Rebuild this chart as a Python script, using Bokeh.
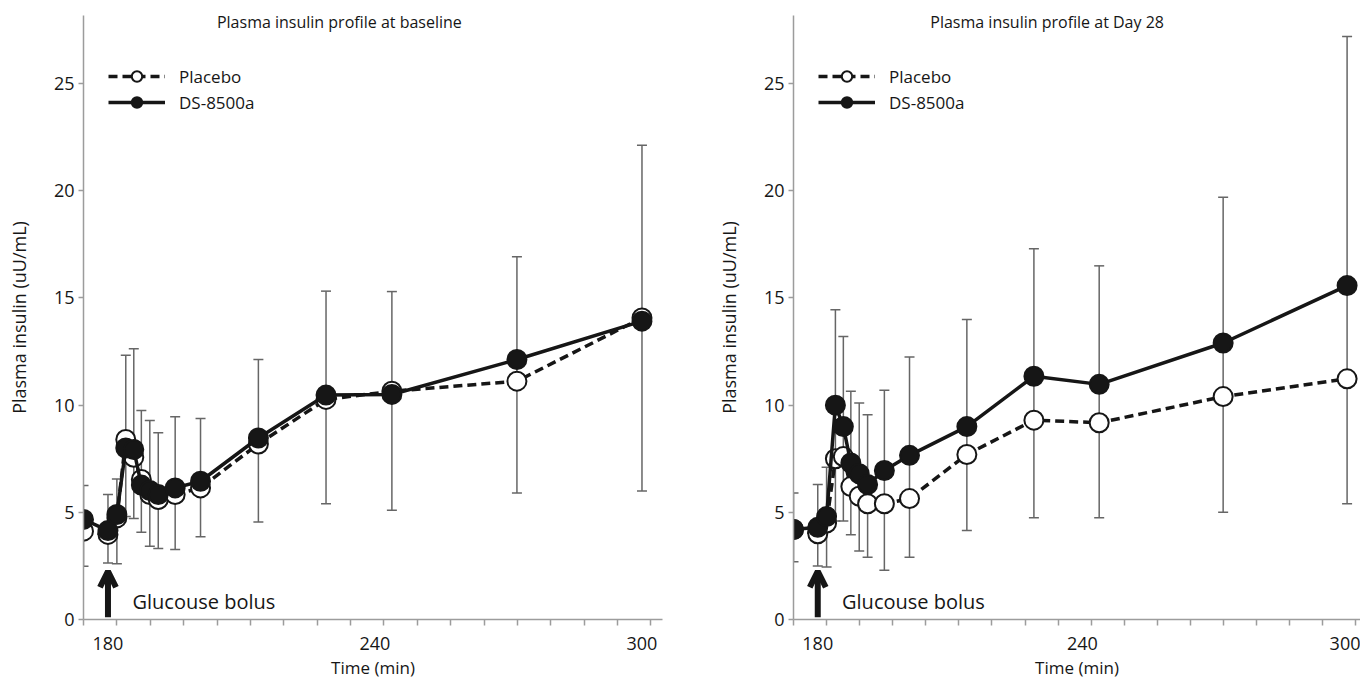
from bokeh.plotting import figure
from bokeh.models import (Range1d, FixedTicker, Whisker, TeeHead, ColumnDataSource,
                          Label, Arrow, OpenHead, Legend, LegendItem)
from bokeh.layouts import row
from bokeh.embed import file_html
from bokeh.resources import INLINE

# ---------------- data ----------------
times = [174.5, 180, 182, 184, 185.8, 187.5, 189.4, 191.3, 195.1, 200.8, 213.8, 229.0, 243.8, 271.9, 300]

placebo_base = [4.12, 3.97, 4.74, 8.4, 7.57, 6.53, 5.83, 5.6, 5.83, 6.14, 8.19, 10.27, 10.65, 11.12, 14.07]
ds_base = [4.67, 4.15, 4.9, 8.0, 7.93, 6.27, 6.02, 5.83, 6.14, 6.45, 8.47, 10.47, 10.5, 12.13, 13.92]
upper_base = [6.25, 5.83, 6.56, 12.33, 12.63, 9.75, 9.29, 8.71, 9.46, 9.38, 12.13, 15.32, 15.3, 16.92, 22.13]
lower_base = [2.49, 2.64, 2.6, 4.8, 4.71, 4.07, 3.42, 3.31, 3.27, 3.86, 4.55, 5.4, 5.1, 5.9, 6.0]

placebo_d28 = [4.2, 4.0, 4.5, 7.5, 7.6, 6.2, 5.75, 5.4, 5.4, 5.64, 7.7, 9.3, 9.18, 10.4, 11.23]
ds_d28 = [4.2, 4.3, 4.8, 10.0, 9.0, 7.3, 6.8, 6.3, 6.95, 7.66, 9.0, 11.35, 10.97, 12.9, 15.58]
upper_d28 = [5.9, 6.3, 7.1, 14.45, 13.2, 10.65, 10.1, 9.55, 10.7, 12.25, 14.0, 17.3, 16.5, 19.7, 27.2]
lower_d28 = [2.7, 2.5, 2.45, 4.6, 4.6, 3.95, 3.2, 2.9, 2.3, 2.9, 4.15, 4.75, 4.75, 5.0, 5.4]

x_tick_labels = [180, 240, 300]
y_ticks = [0, 5, 10, 15, 20, 25]
series_names = ["Placebo", "DS-8500a"]
titles = ["Plasma insulin profile at baseline", "Plasma insulin profile at Day 28"]
bolus_time = 180
bolus_text = "Glucouse bolus"

# ---------------- style ----------------
FONT = "Open Sans"
BLACK = "#161616"
AXIS_GRAY = "#9c9c9c"
ERR_GRAY = "#666666"
X_START = 174.5
PX_PER_MIN = 4.45
Y_MAX = 28.18
HEIGHT = 683


def make_panel(title, placebo, ds, upper, lower, width, border_left, border_right):
    frame_w = width - border_left - border_right
    p = figure(width=width, height=HEIGHT, output_backend="svg", toolbar_location=None,
               x_range=Range1d(X_START, X_START + frame_w / PX_PER_MIN),
               y_range=Range1d(0, Y_MAX),
               min_border_left=border_left, min_border_right=border_right,
               min_border_top=15, min_border_bottom=64)
    p.grid.visible = False
    p.outline_line_color = None
    p.background_fill_color = "white"
    p.border_fill_color = "white"

    # x axis
    xa = p.xaxis[0]
    xa.ticker = FixedTicker(ticks=x_tick_labels,
                            minor_ticks=[X_START + 7.5 * k for k in range(18)])
    xa.axis_line_color = AXIS_GRAY
    xa.axis_line_width = 1.5
    xa.major_tick_line_color = None
    xa.major_tick_out = 0
    xa.major_tick_in = 0
    xa.minor_tick_line_color = AXIS_GRAY
    xa.minor_tick_line_width = 1.5
    xa.minor_tick_out = 6
    xa.minor_tick_in = 0
    xa.major_label_standoff = 11
    xa.major_label_text_font = FONT
    xa.major_label_text_font_size = "18px"
    xa.major_label_text_color = BLACK
    xa.axis_label = "Time (min)"
    xa.axis_label_text_font = FONT
    xa.axis_label_text_font_size = "17px"
    xa.axis_label_text_font_style = "normal"
    xa.axis_label_text_color = BLACK
    xa.axis_label_standoff = 3

    # y axis
    ya = p.yaxis[0]
    ya.ticker = FixedTicker(ticks=y_ticks, minor_ticks=[])
    ya.axis_line_color = AXIS_GRAY
    ya.axis_line_width = 1.5
    ya.major_tick_line_color = AXIS_GRAY
    ya.major_tick_line_width = 1.5
    ya.major_tick_out = 5
    ya.major_tick_in = 0
    ya.minor_tick_line_color = None
    ya.major_label_standoff = 4
    ya.major_label_text_font = FONT
    ya.major_label_text_font_size = "18px"
    ya.major_label_text_color = BLACK
    ya.axis_label = "Plasma insulin (uU/mL)"
    ya.axis_label_text_font = FONT
    ya.axis_label_text_font_size = "18px"
    ya.axis_label_text_font_style = "normal"
    ya.axis_label_text_color = BLACK
    ya.axis_label_standoff = 20

    # error bars
    src = ColumnDataSource(dict(x=times, upper=upper, lower=lower))
    wh = Whisker(base="x", upper="upper", lower="lower", source=src, dimension="height",
                 line_color=ERR_GRAY, line_width=1.5,
                 upper_head=TeeHead(size=10, line_color=ERR_GRAY, line_width=1.5),
                 lower_head=TeeHead(size=10, line_color=ERR_GRAY, line_width=1.5))
    p.add_layout(wh)

    pl_line = p.line(times, placebo, line_color=BLACK, line_width=3.5, line_dash="9 5")
    pl_sc = p.scatter(times, placebo, marker="circle", size=19, fill_color="white",
                      line_color=BLACK, line_width=2)
    ds_line = p.line(times, ds, line_color=BLACK, line_width=3.5)
    ds_sc = p.scatter(times, ds, marker="circle", size=19, fill_color=BLACK,
                      line_color=BLACK, line_width=2)

    legend = Legend(items=[LegendItem(label=series_names[0], renderers=[pl_line, pl_sc]),
                           LegendItem(label=series_names[1], renderers=[ds_line, ds_sc])],
                    location=(25, 504), glyph_width=57, glyph_height=26, spacing=0,
                    padding=0, margin=0, label_standoff=14,
                    label_text_font=FONT, label_text_font_size="17px",
                    label_text_color=BLACK, border_line_color=None,
                    background_fill_alpha=0)
    p.add_layout(legend)

    p.add_layout(Label(x=232, y=27.9, text=title, text_align="center",
                       text_baseline="middle", text_font=FONT,
                       text_font_size="16px", text_color=BLACK))
    p.add_layout(Label(x=185.5, y=0.85, text=bolus_text, text_align="left",
                       text_baseline="middle", text_font=FONT,
                       text_font_size="20px", text_color=BLACK))
    p.add_layout(Arrow(end=OpenHead(size=16, line_width=6, line_color=BLACK),
                       x_start=bolus_time, y_start=0.1, x_end=bolus_time, y_end=2.25,
                       line_width=6, line_color=BLACK))
    return p


p1 = make_panel(titles[0], placebo_base, ds_base, upper_base, lower_base, 713, 83, 51)
p2 = make_panel(titles[1], placebo_d28, ds_d28, upper_d28, lower_d28, 647, 75, 0)

layout = row(p1, p2)
open("out.html", "w").write(file_html(layout, INLINE))
